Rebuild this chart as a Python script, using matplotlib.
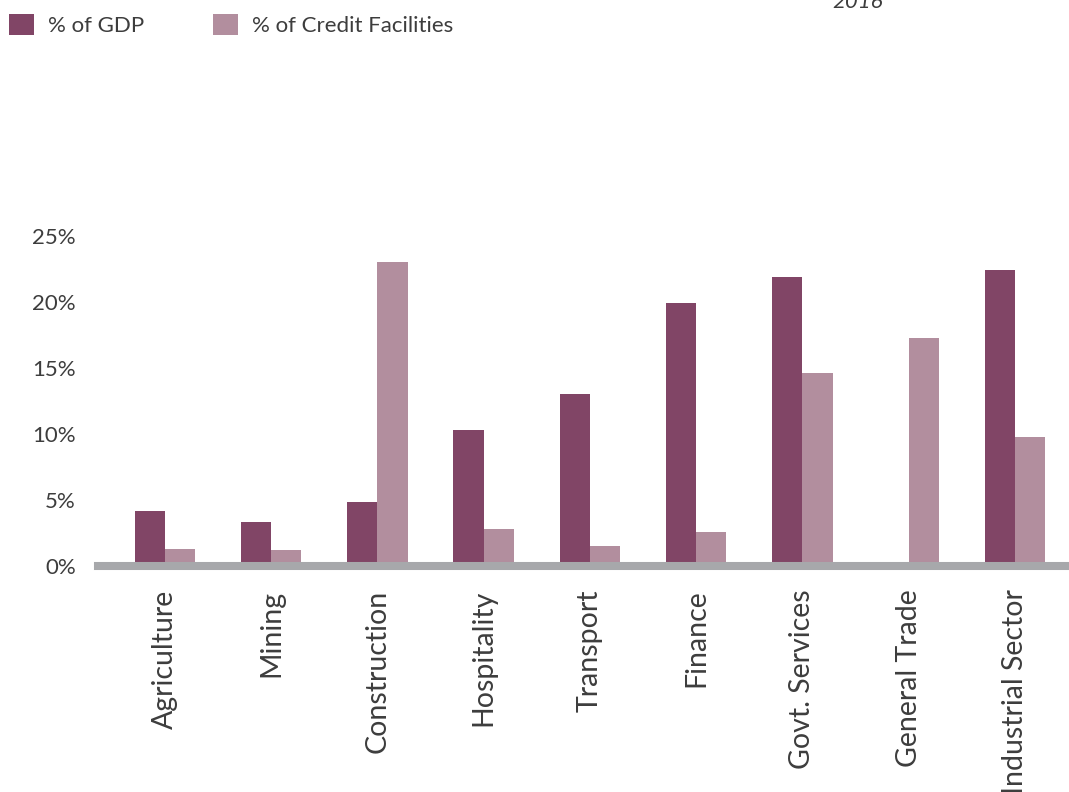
import matplotlib
matplotlib.use('Agg')
import matplotlib.pyplot as plt
import numpy as np

# Sector shares (%)
sectors = ['Agriculture', 'Mining', 'Construction', 'Hospitality', 'Transport',
           'Finance', 'Govt. Services', 'General Trade', 'Industrial Sector']
gdp_share = [4.2, 3.3, 4.85, 10.3, 13.0, 19.9, 21.9, 0.0, 22.4]
credit_share = [1.3, 1.2, 23.0, 2.8, 1.5, 2.6, 14.6, 17.3, 9.8]
yticks = [0, 5, 10, 15, 20, 25]
year_label = '2016'

gdp_color = '#814566'
credit_color = '#b28e9e'
axis_color = '#a7a8ab'
text_color = '#3d3d3d'

plt.rcParams['font.family'] = ['Lato', 'DejaVu Sans']

fig = plt.figure(figsize=(10.69, 7.92), dpi=100)
ax = fig.add_axes([98 / 1069, 226 / 792, 1 - 98 / 1069, 330 / 792])

x = np.arange(len(sectors))
w = 0.285
b1 = ax.bar(x - w / 2, gdp_share, w, color=gdp_color, label='% of GDP', zorder=1)
b2 = ax.bar(x + w / 2, credit_share, w, color=credit_color,
            label='% of Credit Facilities', zorder=1)

ax.set_xlim(-0.63, 8.51)
ax.set_ylim(0, 25)
ax.set_yticks(yticks)
ax.set_yticklabels([f'{t}%' for t in yticks])
ax.set_xticks(x)
ax.set_xticklabels(sectors, rotation=90, va='top', ha='center')

for side in ['top', 'right', 'left']:
    ax.spines[side].set_visible(False)
ax.spines['bottom'].set_color(axis_color)
ax.spines['bottom'].set_linewidth(5.8)
ax.spines['bottom'].set_zorder(3)

ax.tick_params(axis='y', length=0, pad=16, labelsize=16, labelcolor=text_color)
ax.tick_params(axis='x', length=0, pad=17, labelsize=20.5, labelcolor=text_color)

leg = fig.legend(handles=[b1, b2], loc='upper left', bbox_to_anchor=(-0.01, 1.008),
                 ncol=2, frameon=False, handlelength=1.1, handleheight=1.1,
                 handletextpad=0.65, columnspacing=3.1, fontsize=16)
for t in leg.get_texts():
    t.set_color(text_color)

fig.text(0.802, 0.998, year_label, fontsize=16, style='italic', color=text_color,
         ha='center', va='center')

fig.savefig('out.png', dpi=100)
